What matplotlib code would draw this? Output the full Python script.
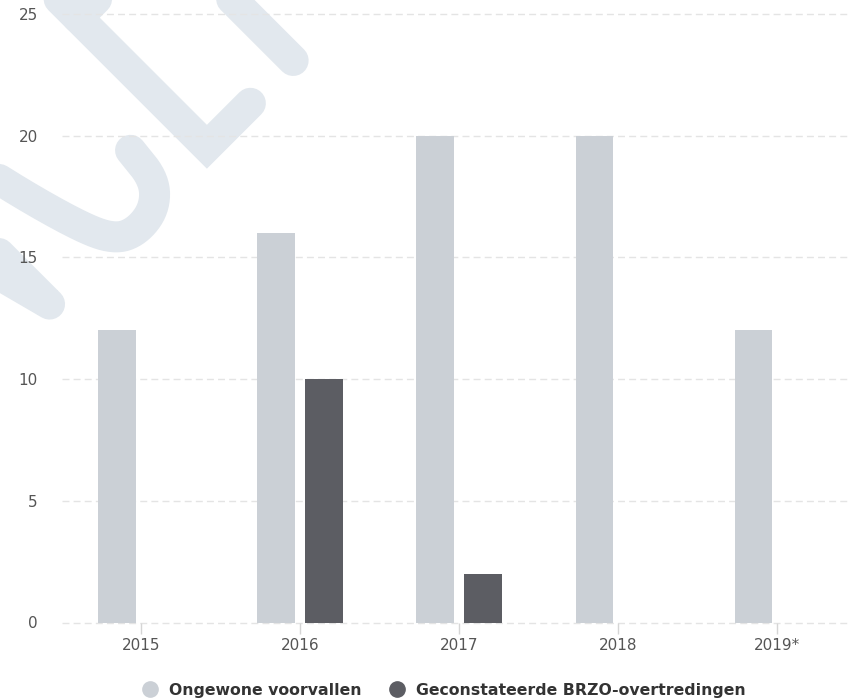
import numpy as np
import matplotlib
matplotlib.use('Agg')
import matplotlib.pyplot as plt
from matplotlib.lines import Line2D
from matplotlib.transforms import Affine2D

jaren = ['2015', '2016', '2017', '2018', '2019*']
voorvallen = [12, 16, 20, 20, 12]
overtredingen = [0, 10, 2, 0, 0]
y_ticks = [0, 5, 10, 15, 20, 25]

kleur_licht = '#cbd0d6'
kleur_donker = '#5c5d63'
kleur_raster = '#e4e4e4'
kleur_tekst = '#555555'
kleur_watermerk = '#e2e8ee'

plt.rcParams['font.family'] = ['DejaVu Sans']

fig = plt.figure(figsize=(8.51, 7.0), dpi=100)
ax = fig.add_axes([61.5 / 851, 77.5 / 700, (851 - 61.5) / 851, 608.5 / 700])
ax.set_facecolor('none')


# watermerk "CONCEPT": smalle afgeronde letters als dikke lijnen (in pixels)
H, h = 380, 16.5


def glad(pts, n=4):
    # Chaikin: hoeken afsnijden voor een vloeiende lijn
    p = np.array(pts, dtype=float)
    for _ in range(n):
        q = 0.75 * p[:-1] + 0.25 * p[1:]
        r = 0.25 * p[:-1] + 0.75 * p[1:]
        p = np.vstack([p[:1], np.column_stack([q, r]).reshape(-1, 2), p[-1:]])
    return p


def letter(ch):
    if ch == 'C':
        # licht achterover hellende C
        return [glad([(132, 68), (128, 30), (108, 10), (80, 6), (58, 16),
                      (42, 50), (20, 130), (2, 220), (-8, 300), (0, 352),
                      (40, 374), (90, 368), (120, 340)])]
    if ch == 'O':
        t = np.linspace(0, 2 * np.pi, 60)
        return [list(zip(67 + 50 * np.cos(t), 190 + 173 * np.sin(t)))]
    if ch == 'N':
        return [[(h, h), (h, H - h), (108, h), (108, H - h)]]
    if ch == 'E':
        return [[(78, h), (h, h), (h, H - h), (74, H - h)], [(h, 199), (64, 199)]]
    if ch == 'P':
        t = np.linspace(np.pi / 2, -np.pi / 2, 30)
        boog = [(55 + 45 * np.cos(a), 280 + 83 * np.sin(a)) for a in t]
        return [[(h, h), (h, H - h)] + boog + [(h, 197)]]
    if ch == 'T':
        return [[(h, H - h), (115, H - h)], [(66, H - h), (66, h)]]
    return []


posities = [-650, -490, -314, -172, 0, 122, 262]
tr = Affine2D().rotate_deg(45).translate(206.9, 529.9)
for ch, u0 in zip('CONCEPT', posities):
    join = 'miter' if ch in 'EPT' else 'round'
    for pts in letter(ch):
        pts = np.array(pts, dtype=float)
        fig.add_artist(Line2D(pts[:, 0] + u0, pts[:, 1], transform=tr,
                              color=kleur_watermerk, lw=31 * 0.72,
                              solid_capstyle='round', solid_joinstyle=join,
                              zorder=-1))

x = np.arange(len(jaren))
breedte = 0.235
ax.bar(x - 0.15, voorvallen, breedte, color=kleur_licht, zorder=3)
ax.bar(x + 0.15, overtredingen, breedte, color=kleur_donker, zorder=3)

ax.set_xlim(-0.5, 4.465)
ax.set_ylim(0, 25)
ax.set_yticks(y_ticks)
ax.set_xticks(x)
ax.set_xticklabels(jaren)

for y in y_ticks:
    ax.axhline(y, color=kleur_raster, lw=1, ls=(0, (5, 3)), zorder=1, clip_on=False)

for s in ax.spines.values():
    s.set_visible(False)

ax.tick_params(axis='y', length=0, pad=17, labelsize=11, labelcolor=kleur_tekst)
ax.tick_params(axis='x', length=8, width=1, color='#d5d5d5', pad=3,
               labelsize=11, labelcolor=kleur_tekst)

handles = [
    Line2D([], [], ls='none', marker='o', markersize=11, color=kleur_licht),
    Line2D([], [], ls='none', marker='o', markersize=11, color=kleur_donker),
]
fig.legend(handles, ['Ongewone voorvallen', 'Geconstateerde BRZO-overtredingen'],
           loc='center', bbox_to_anchor=(444 / 851, 10 / 700), ncol=2,
           frameon=False, handlelength=1.0, handletextpad=0.7, columnspacing=1.8,
           borderpad=0, prop={'size': 11.3, 'weight': 'bold'}, labelcolor='#333333')

fig.savefig('out.png', dpi=100)
